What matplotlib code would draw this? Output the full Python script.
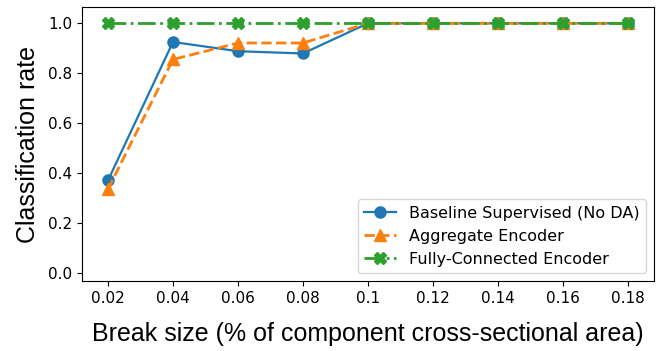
import numpy as np
import matplotlib
matplotlib.use("Agg")
import matplotlib.pyplot as plt

break_sizes = ["0.02", "0.04", "0.06", "0.08", "0.1", "0.12", "0.14", "0.16", "0.18"]
baseline = [0.37, 0.925, 0.888, 0.879, 1.0, 1.0, 1.0, 1.0, 1.0]
aggregate = [0.335, 0.855, 0.921, 0.921, 1.0, 1.0, 1.0, 1.0, 1.0]
fully_connected = [1.0, 1.0, 1.0, 1.0, 1.0, 1.0, 1.0, 1.0, 1.0]

fig = plt.figure(figsize=(6.6, 3.51), dpi=100)
ax = fig.add_axes([0.1242, 0.1994, 0.8667, 0.7798])
x = np.arange(len(break_sizes))
ax.plot(x, baseline, "-o", color="C0", linewidth=1.6, markersize=8,
        label="Baseline Supervised (No DA)")
ax.plot(x, aggregate, "--^", color="C1", linewidth=2, markersize=8,
        label="Aggregate Encoder")
ax.plot(x, fully_connected, "-.X", color="C2", linewidth=2, markersize=8,
        label="Fully-Connected Encoder")

ax.set_xticks(x)
ax.set_xticklabels(break_sizes)
ax.set_ylim(-0.033, 1.064)
ax.set_yticks([0.0, 0.2, 0.4, 0.6, 0.8, 1.0])
ax.tick_params(labelsize=11)
ax.set_xlabel("Break size (% of component cross-sectional area)", fontsize=18,
              family="Liberation Sans", labelpad=12)
ax.set_ylabel("Classification rate", fontsize=18, family="Liberation Sans", labelpad=6)
ax.legend(loc="lower right", fontsize=11.5)

fig.savefig("out.png", dpi=100)
